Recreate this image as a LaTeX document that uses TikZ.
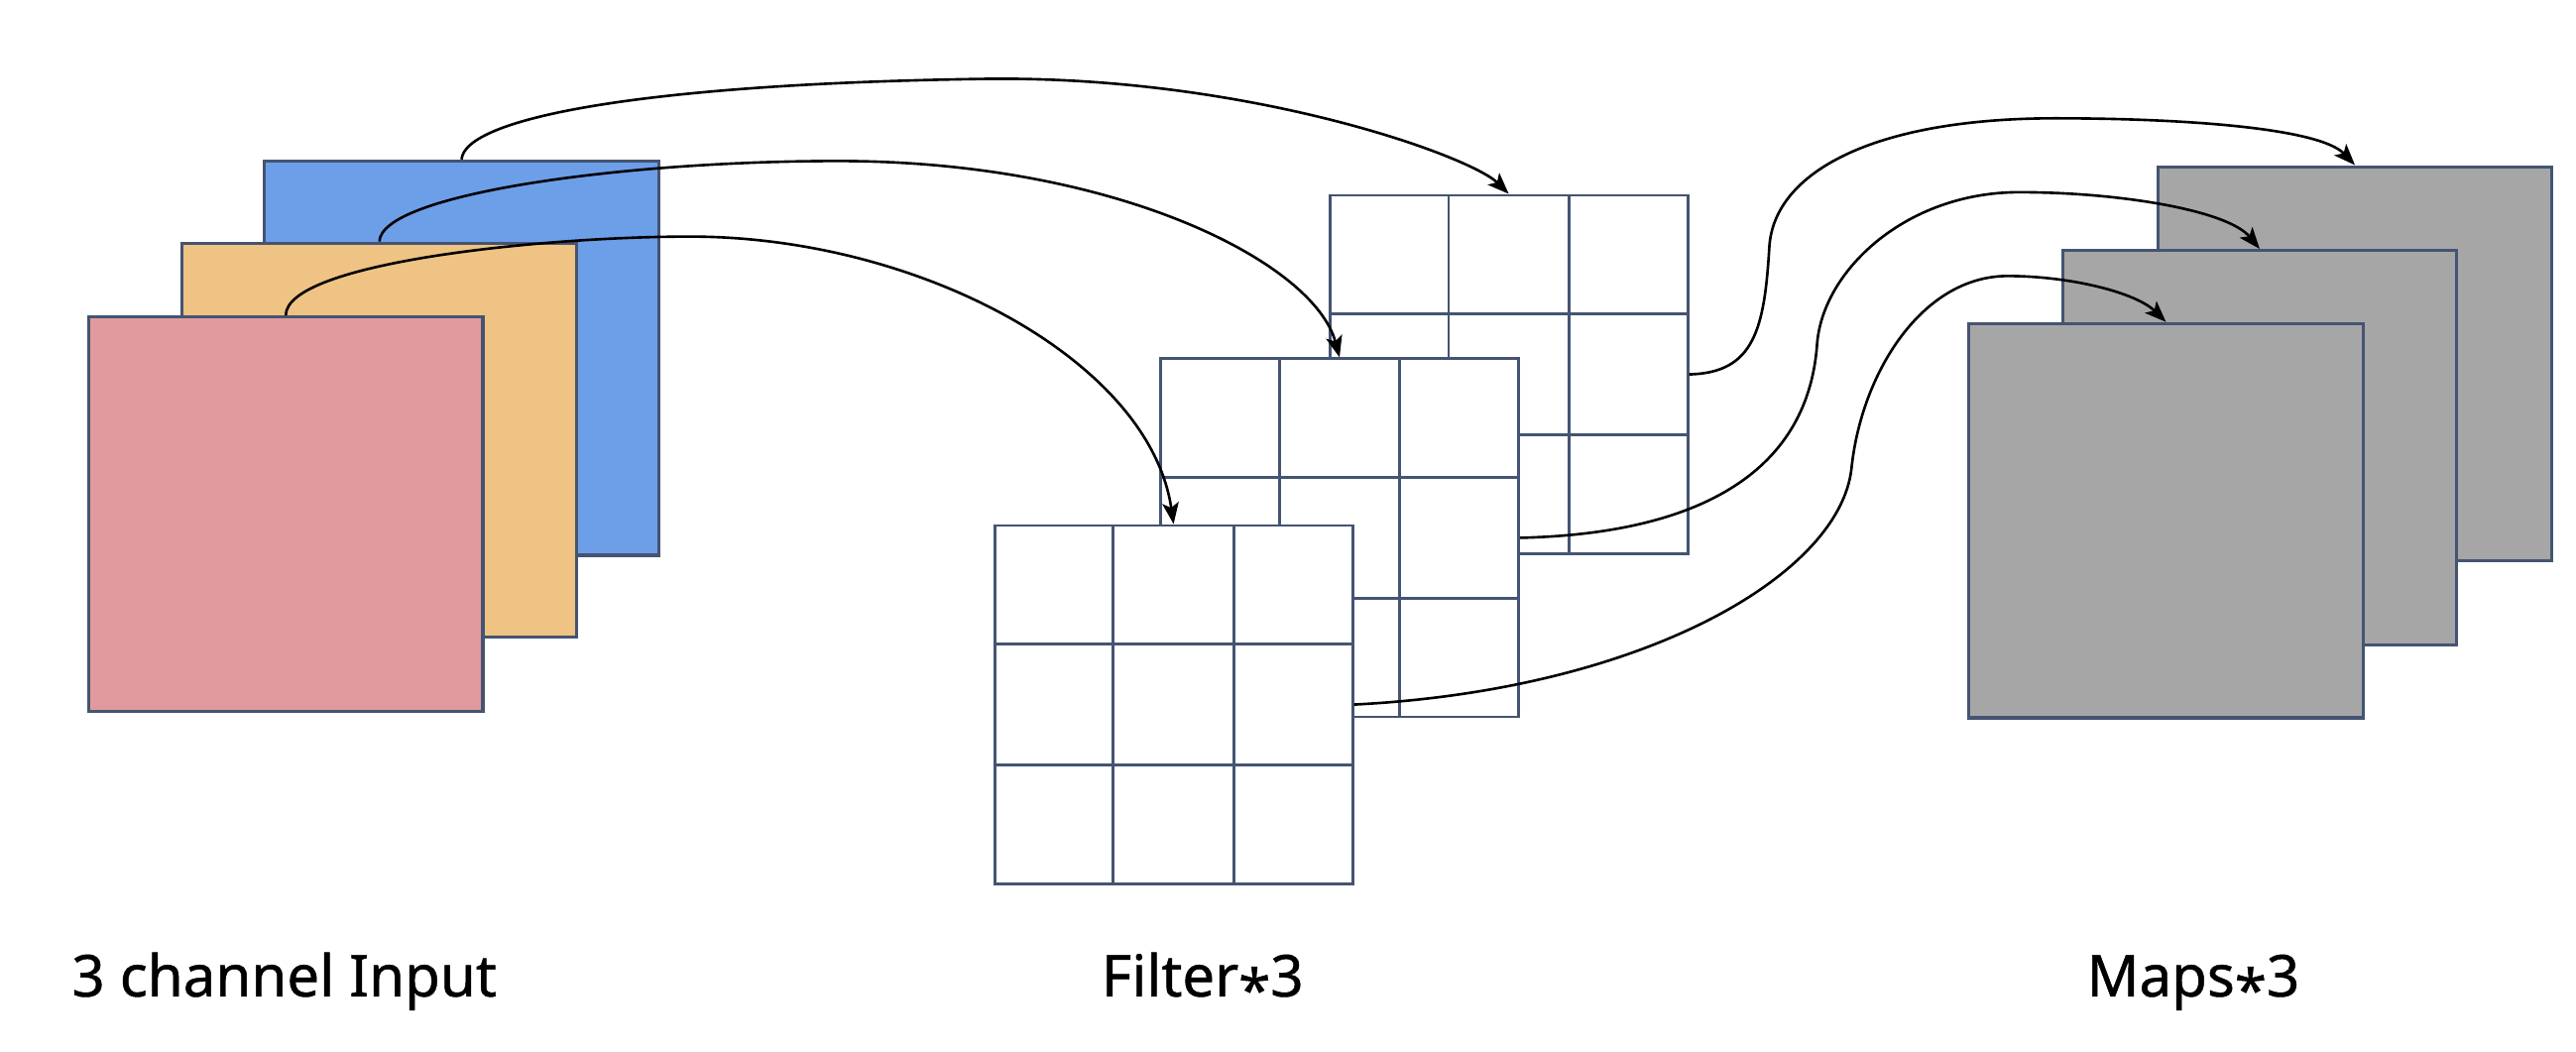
\documentclass[tikz,border=0pt]{standalone}
\usepackage{fontspec}
\setmainfont{Noto Sans}
\newfontfamily\lblfont{Noto Sans}[FakeBold=0.8]
\usetikzlibrary{arrows.meta,calc}
\definecolor{bord}{HTML}{445472}
\definecolor{inblue}{HTML}{6D9EE8}
\definecolor{inorange}{HTML}{EFC383}
\definecolor{inpink}{HTML}{E09A9D}
\definecolor{mapgray}{HTML}{A6A6A6}
\newcommand\filtgrid[1]{%
  \foreach \f in {1/3,2/3}{%
    \draw[bord,line width=1pt] ($(#1.north west)!\f!(#1.north east)$) -- ($(#1.south west)!\f!(#1.south east)$);
    \draw[bord,line width=1pt] ($(#1.north west)!\f!(#1.south west)$) -- ($(#1.north east)!\f!(#1.south east)$);
  }}
\begin{document}
\begin{tikzpicture}[x=0.02cm,y=-0.02cm,
  sheet/.style={draw=bord, line width=1.1pt, anchor=north west, inner sep=0pt, minimum width=4.8cm, minimum height=4.8cm},
  filt/.style={draw=bord, fill=white, line width=1pt, anchor=north west, inner sep=0pt, minimum width=4.36cm, minimum height=4.36cm},
  link/.style={line width=0.9pt, -{Stealth[length=0.26cm,width=0.2cm,inset=0.06cm]}},
  lbl/.style={font=\lblfont\fontsize{20}{24}\selectfont, anchor=base, inner sep=0pt}]
\useasboundingbox (0,0) rectangle (1568,640);

% input channels
\node[sheet, fill=inblue] (inB) at (160,97) {};
\node[sheet, fill=inorange] (inO) at (110,147) {};
\node[sheet, fill=inpink] (inP) at (53,192) {};

% filters
\node[filt] (fB) at (808.5,118) {};
\filtgrid{fB}
\node[filt] (fM) at (705.5,217.5) {};
\filtgrid{fM}
\node[filt] (fF) at (604.5,319) {};
\filtgrid{fF}

% maps
\node[sheet, fill=mapgray] (mB) at (1312.5,100.5) {};
\node[sheet, fill=mapgray] (mM) at (1254.5,151.5) {};
\node[sheet, fill=mapgray] (mF) at (1197.5,196) {};

% input -> filters
\draw[link] (inB.north) .. controls (283,72) and (390,51) .. (600,48)
  .. controls (760,46) and (895,95) .. (fB.north);
\draw[link] (inO.north) .. controls (232,118) and (380,98) .. (510,98)
  .. controls (680,98) and (800,160) .. (fM.north);
\draw[link] (inP.north) .. controls (174,160) and (330,144) .. (420,144)
  .. controls (560,144) and (700,220) .. (fF.north);

% filters -> maps
\draw[link] (fB.east) .. controls (1068,227) and (1074,200) .. (1077,150)
  .. controls (1080,105) and (1140,72) .. (1251,72)
  .. controls (1330,72) and (1412,78) .. (mB.north);
\draw[link] (fM.east) .. controls (1030,325) and (1100,290) .. (1106,210)
  .. controls (1109,165) and (1160,117) .. (1229,117)
  .. controls (1290,117) and (1356,128) .. (mM.north);
\draw[link] (fF.east) .. controls (1000,420) and (1120,350) .. (1127,285)
  .. controls (1133,227) and (1170,168) .. (1222,168)
  .. controls (1260,168) and (1300,178) .. (mF.north);

% labels
\node[lbl] (lin) at (173,606.5) {3 channel Input};
\node[lbl] (lfi) at (732,606.5) {Filter\raisebox{-0.25em}{*}3};
\node[lbl] (lma) at (1335,606.5) {Maps\raisebox{-0.25em}{*}3};
\end{tikzpicture}
\end{document}
